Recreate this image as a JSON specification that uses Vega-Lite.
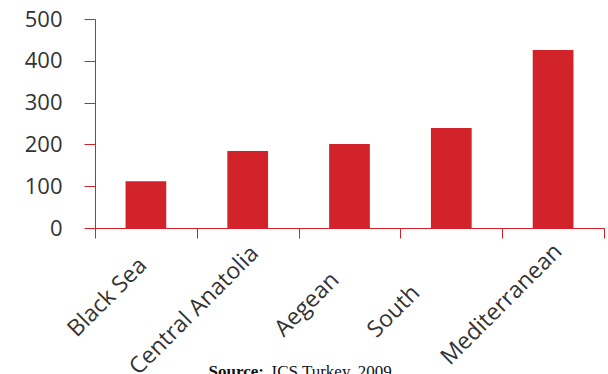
{
  "$schema": "https://vega.github.io/schema/vega-lite/v6.json",
  "autosize": "none",
  "width": 509,
  "height": 209,
  "padding": {"left": 95, "top": 19, "right": 4, "bottom": 146},
  "background": "white",
  "data": {
    "values": [
      {"region": "Black Sea", "value": 112},
      {"region": "Central Anatolia", "value": 184},
      {"region": "Aegean", "value": 201},
      {"region": "South", "value": 239},
      {"region": "Mediterranean", "value": 426}
    ]
  },
  "mark": {"type": "bar", "color": "#d2232b", "width": {"band": 0.4}},
  "encoding": {
    "x": {
      "field": "region",
      "type": "nominal",
      "sort": null,
      "scale": {"paddingInner": 0, "paddingOuter": 0},
      "axis": {
        "title": "ICS Turkey, 2009",
        "titleX": 176,
        "titleY": 148,
        "titleAlign": "left",
        "titleAnchor": null,
        "titleBaseline": "alphabetic",
        "titleFont": "Liberation Serif",
        "titleFontSize": 17,
        "titleFontWeight": "normal",
        "titleColor": "#111111",
        "tickBand": "extent",
        "tickSize": 10,
        "tickColor": "#d2232b",
        "domainColor": "#d2232b",
        "labelAngle": -45,
        "labelAlign": "center",
        "labelBaseline": "middle",
        "labelOffset": {
          "condition": [
            {"test": "datum.value === 'Black Sea'", "value": -39},
            {"test": "datum.value === 'Central Anatolia'", "value": -54},
            {"test": "datum.value === 'Aegean'", "value": -43},
            {"test": "datum.value === 'South'", "value": -58}
          ],
          "value": -52
        },
        "labelPadding": {
          "condition": [
            {"test": "datum.value === 'Black Sea'", "value": 59},
            {"test": "datum.value === 'Central Anatolia'", "value": 72},
            {"test": "datum.value === 'Aegean'", "value": 66},
            {"test": "datum.value === 'South'", "value": 73}
          ],
          "value": 66
        },
        "labelFont": "Open Sans",
        "labelFontSize": 23,
        "labelColor": "#333333",
        "labelOverlap": false,
        "labelBound": false
      }
    },
    "y": {
      "field": "value",
      "type": "quantitative",
      "scale": {"domain": [0, 500], "nice": false},
      "axis": {
        "title": "Source:",
        "titleAngle": 0,
        "titleX": 113,
        "titleY": 357,
        "titleAlign": "left",
        "titleAnchor": null,
        "titleBaseline": "alphabetic",
        "titleFont": "Liberation Serif",
        "titleFontSize": 17,
        "titleFontWeight": "bold",
        "titleColor": "#111111",
        "grid": false,
        "values": [0, 100, 200, 300, 400, 500],
        "tickSize": 11,
        "tickColor": "#d2232b",
        "domainColor": "#d2232b",
        "labelPadding": 22,
        "labelFont": "Open Sans",
        "labelFontSize": 22,
        "labelColor": "#333333",
        "labelFlush": false
      }
    }
  },
  "config": {"view": {"stroke": null}}
}
